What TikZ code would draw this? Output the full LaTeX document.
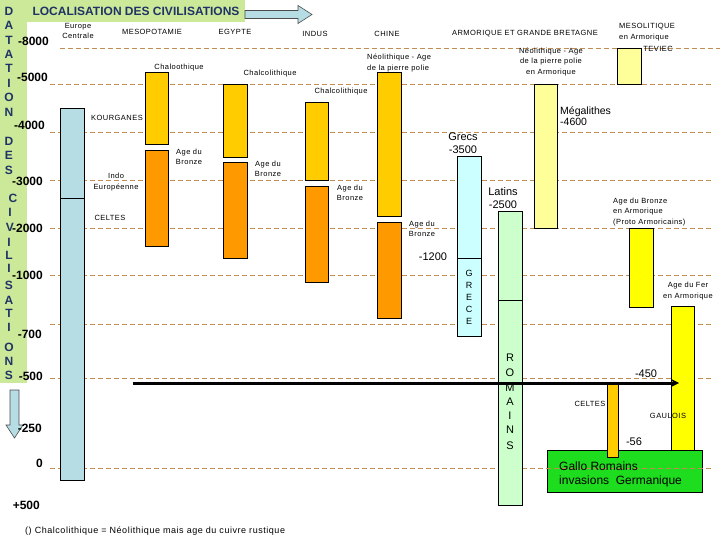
\documentclass[tikz,border=0pt]{standalone}
\usepackage{fontspec}
\setmainfont{Liberation Sans}
\newfontfamily\spacedfont[LetterSpace=6]{Liberation Sans}
\usetikzlibrary{arrows.meta}

\definecolor{titlegreen}{RGB}{204,232,153}
\definecolor{navytext}{RGB}{31,51,102}
\definecolor{dashbrown}{RGB}{196,140,80}
\definecolor{eurblue}{RGB}{183,221,228}
\definecolor{chalc}{RGB}{255,204,0}
\definecolor{bronze}{RGB}{255,153,0}
\definecolor{grcyan}{RGB}{204,255,255}
\definecolor{romgreen}{RGB}{204,255,204}
\definecolor{paleyel}{RGB}{255,255,153}
\definecolor{yel}{RGB}{255,255,0}
\definecolor{gallogreen}{RGB}{30,220,30}

\tikzset{
  bar/.style={draw=black,line width=0.8pt},
  timeline/.style={draw=dashbrown,line width=0.8pt,dash pattern=on 5pt off 3pt},
  year/.style={anchor=east,inner sep=0pt,font=\bfseries\fontsize{12}{12}\selectfont},
  vlet/.style={inner sep=0pt,text=navytext,font=\bfseries\fontsize{12}{12}\selectfont},
  lbl/.style={inner sep=0pt,align=center,font=\spacedfont\fontsize{7.5}{10.5}\selectfont},
  biglbl/.style={inner sep=0pt,align=center,font=\fontsize{11}{12.5}\selectfont},
  fatarrow/.style={fill=eurblue,draw=black!70,line width=0.6pt},
  timearrow/.style={draw=black,line width=3pt,-{Stealth[length=8pt,width=8pt]}}
}

\begin{document}
\begin{tikzpicture}[x=1pt,y=-1pt]
\useasboundingbox (0,0) rectangle (720,540);

% bandeaux
\fill[titlegreen] (0,0) rectangle (245,22);
\fill[titlegreen] (0,0) rectangle (27,383);
\node[inner sep=0pt,text=navytext,font=\bfseries\fontsize{12}{12}\selectfont] (title) at (136,11) {LOCALISATION DES CIVILISATIONS};

% fleches
\draw[fatarrow] (245,10.5) -- (298,10.5) -- (298,5.5) -- (312,14.5) -- (298,23.5) -- (298,18.5) -- (245,18.5) -- cycle;
\draw[fatarrow] (10,390) -- (19,390) -- (19,425) -- (23,425) -- (14.5,438) -- (6,425) -- (10,425) -- cycle;

% gallo romains
\draw[bar,fill=gallogreen] (547,450) rectangle (702,492);

% lignes de dates
\draw[timeline] (60,48) -- (720,48);
\foreach \y in {84,132,180,228,275,324,378,468}
  \draw[timeline] (50,\y) -- (712,\y);

% barres
\draw[bar,fill=eurblue] (60,108) rectangle (84,198);
\draw[bar,fill=eurblue] (60,198) rectangle (84,480);
\draw[bar,fill=chalc] (145,72) rectangle (168,144);
\draw[bar,fill=bronze] (145,150) rectangle (168,246);
\draw[bar,fill=chalc] (223,84) rectangle (247,157);
\draw[bar,fill=bronze] (223,162) rectangle (247,258);
\draw[bar,fill=chalc] (305,102) rectangle (328,180);
\draw[bar,fill=bronze] (305,186) rectangle (328,282);
\draw[bar,fill=chalc] (377,72) rectangle (401,216);
\draw[bar,fill=bronze] (377,222) rectangle (401,318);
\draw[bar,fill=grcyan] (457,156) rectangle (481,258);
\draw[bar,fill=grcyan] (457,258) rectangle (481,336);
\draw[bar,fill=romgreen] (498,211) rectangle (522,300);
\draw[bar,fill=romgreen] (498,300) rectangle (522,505);
\draw[bar,fill=paleyel] (534,84) rectangle (557,228);
\draw[bar,fill=paleyel] (617,48) rectangle (641,84);
\draw[bar,fill=yel] (629,228) rectangle (653,307);
\draw[bar,fill=yel] (671,306) rectangle (694,450);
\draw[bar,fill=chalc] (607,383) rectangle (618,457);

% fleche -450
\coordinate (arrS) at (133,383);
\coordinate (arrE) at (679,383);
\draw[timearrow] (arrS) -- (arrE);

% dates
\node[year] (y8000) at (49,41) {-8000};
\node[year] (y5000) at (48,77) {-5000};
\node[year] (y4000) at (45,125) {-4000};
\node[year] (y3000) at (43,181) {-3000};
\node[year] (y2000) at (43,228) {-2000};
\node[year] (y1000) at (43,275) {-1000};
\node[year] (y700) at (42,334) {-700};
\node[year] (y500) at (43,376) {-500};
\node[year] (y250) at (42,428) {-250};
\node[year] (y0) at (43,463) {0};
\node[year] (yp500) at (40,505) {+500};

% titre vertical
\foreach \l/\x/\y [count=\i] in {D/9/11,A/9/25,T/9/40,A/9/54,T/9/68,I/9/83,O/9/97,N/9/112,
  D/9/141,E/9/155,S/9/170,
  C/13/198,I/10/212,V/10/227,I/9/242,L/9/255,I/9/268,S/9/285,A/9/300,T/9/313,I/9/327,O/9/347,N/9/361,S/9/375}
  \node[vlet] (let\i) at (\x,\y) {\l};

% entetes
\node[lbl] (europe) at (78,31) {Europe\\Centrale};
\node[lbl] (mesop) at (152,32) {MESOPOTAMIE};
\node[lbl] (egypte) at (235,32) {EGYPTE};
\node[lbl] (indus) at (315,34) {INDUS};
\node[lbl] (chine) at (387,34) {CHINE};
\node[lbl] (armor) at (525,34) {ARMORIQUE ET GRANDE BRETAGNE};
\node[lbl,anchor=west,align=left] (mesol) at (619,32) {MESOLITIQUE\\en Armorique};
\node[lbl] (teviec) at (658,49) {TEVIEC};

% etiquettes
\node[lbl] (chalc1) at (179,68) {Chaloothique};
\node[lbl] (chalc2) at (270,74) {Chalcolithique};
\node[lbl] (chalc3) at (341,92) {Chalcolithique};
\node[lbl,anchor=west,align=left] (neo1) at (367,63) {Néolithique - Age\\de la pierre polie};
\node[lbl] (neo2) at (551,62) {Néolithique - Age\\de la pierre polie\\en Armorique};
\node[lbl] (kourg) at (117,118) {KOURGANES};
\node[lbl] (indo) at (116,182) {Indo\\Européenne};
\node[lbl] (celtes1) at (110,218) {CELTES};
\node[lbl] (bronze1) at (189,157) {Age du\\Bronze};
\node[lbl] (bronze2) at (268,169) {Age du\\Bronze};
\node[lbl] (bronze3) at (350,193) {Age du\\Bronze};
\node[lbl] (bronze4) at (422,229) {Age du\\Bronze};
\node[lbl,anchor=west,align=left] (bronzarm) at (613,212) {Age du Bronze\\en Armorique\\(Proto Armoricains)};
\node[lbl] (ferarm) at (688,291) {Age du Fer\\en Armorique};
\node[lbl] (celtes2) at (590,404) {CELTES};
\node[lbl] (gaulois) at (668,416) {GAULOIS};

\node[biglbl] (grecs) at (463,143) {Grecs\\-3500};
\node[biglbl] (latins) at (503,198) {Latins\\-2500};
\node[biglbl,anchor=west,align=left,font=\fontsize{10.5}{11.5}\selectfont] (megal) at (560,116) {Mégalithes\\-4600};
\node[biglbl] (m1200) at (433,257) {-1200};
\node[biglbl] (m450) at (646,374) {-450};
\node[biglbl] (m56) at (634,442) {-56};

\foreach \l/\y [count=\i] in {G/273,R/285,E/297,C/309,E/321}
  \node[inner sep=0pt,font=\fontsize{9}{9}\selectfont] (gr\i) at (469,\y) {\l};
\foreach \l/\y [count=\i] in {R/358,O/373,M/388,A/402,I/416,N/430,S/446}
  \node[inner sep=0pt,font=\fontsize{11}{11}\selectfont] (ro\i) at (510,\y) {\l};

\node[anchor=west,inner sep=0pt,align=left,font=\fontsize{12}{14}\selectfont] (gallo) at (559,474) {Gallo Romains\\invasions\ \ Germanique};

\node[lbl,anchor=west,font=\spacedfont\fontsize{9}{9}\selectfont] (note) at (25,531) {() Chalcolithique = Néolithique mais age du cuivre rustique};
\end{tikzpicture}
\end{document}
